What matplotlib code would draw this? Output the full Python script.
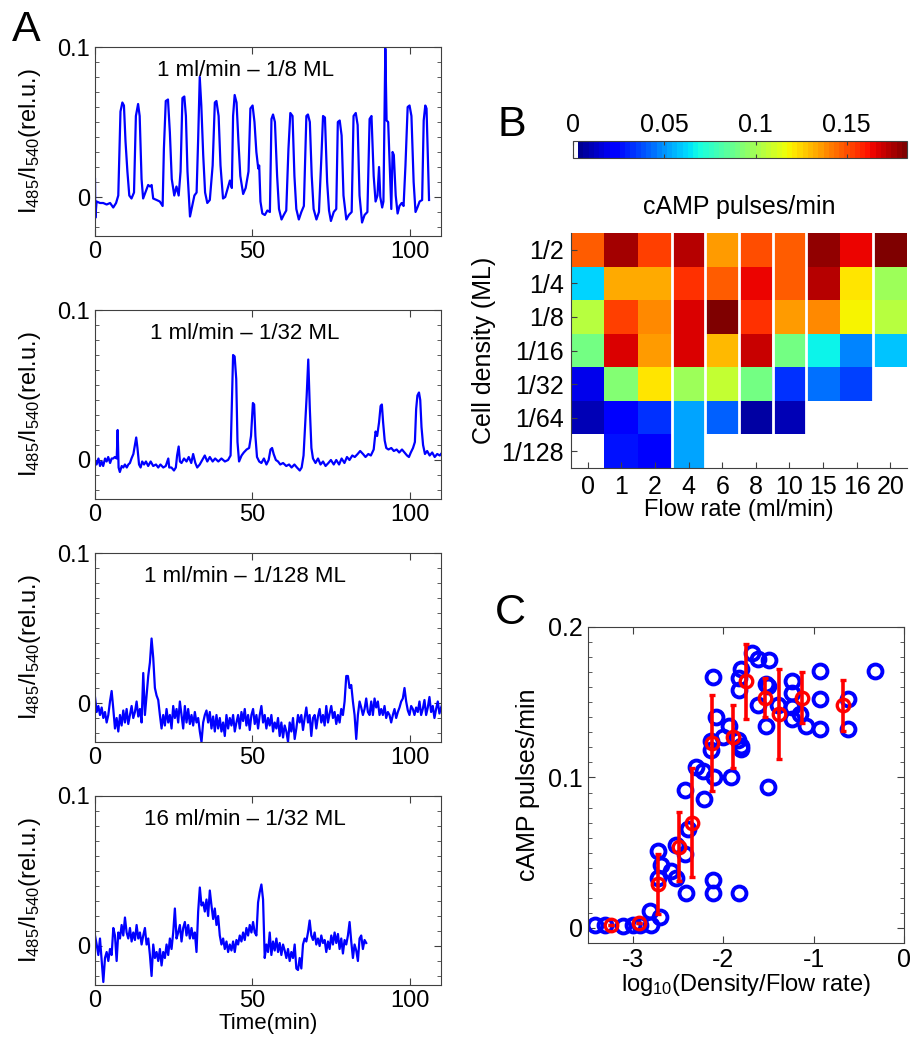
import matplotlib
matplotlib.use('Agg')
import matplotlib.pyplot as plt
import numpy as np
from matplotlib.colors import ListedColormap
from matplotlib.ticker import MultipleLocator

plt.rcParams['font.family'] = ['Liberation Sans', 'DejaVu Sans']
plt.rcParams['mathtext.fontset'] = 'custom'
plt.rcParams['mathtext.rm'] = 'Liberation Sans'
plt.rcParams['mathtext.it'] = 'Liberation Sans:italic'
plt.rcParams['axes.unicode_minus'] = False

# ---------------- panel A: single-cell traces ----------------
trace_labels = ['1 ml/min \u2013 1/8 ML', '1 ml/min \u2013 1/32 ML',
                '1 ml/min \u2013 1/128 ML', '16 ml/min \u2013 1/32 ML']

t1 = [0, 0.1, 0.5, 1.6, 2.6, 3.7, 4.8, 5.8, 6.7, 7.4, 8.1, 8.7, 9.2, 9.7, 10.3, 10.9, 11.6,
      12.4, 13.0, 13.7, 14.2, 14.8, 15.3, 16.2, 16.9, 17.5, 18.0, 18.5, 19.6, 20.6, 21.5,
      21.9, 22.5, 23.2, 23.8, 24.4, 25.2, 25.9, 26.6, 27.2, 27.8, 28.4, 28.9, 29.4, 30.2,
      30.8, 31.6, 32.3, 32.8, 33.3, 33.8, 34.4, 35.0, 35.7, 36.5, 37.4, 38.1, 38.6, 39.3,
      39.9, 40.7, 41.4, 42.2, 42.9, 43.5, 43.9, 44.4, 45.0, 45.6, 46.2, 47.1, 47.9, 48.8,
      49.4, 50.1, 50.7, 51.3, 51.9, 52.2, 52.6, 53.2, 54.0, 54.8, 55.6, 56.1, 56.6, 57.2,
      57.9, 58.5, 59.3, 60.0, 60.8, 61.5, 62.1, 62.8, 63.4, 64.0, 64.8, 65.6, 66.4, 67.2,
      67.7, 68.3, 68.9, 69.5, 70.4, 71.2, 72.0, 72.5, 73.1, 73.8, 74.4, 75.0, 75.9, 76.7,
      77.2, 77.8, 78.4, 79.0, 79.9, 80.7, 81.6, 82.2, 82.9, 83.5, 84.1, 84.9, 85.7, 86.6,
      87.3, 87.9, 88.6, 89.2, 89.8, 90.3, 90.7, 91.3, 91.7, 92.3, 92.7, 93.2, 93.7, 94.2,
      94.6, 95.0, 95.6, 96.2, 96.8, 97.5, 98.1, 98.7, 99.4, 100.0, 100.6, 101.3, 101.9,
      102.5, 103.2, 104.0, 104.5, 105.0, 105.4, 105.8, 106.2]
v1 = [0.012, -0.014, -0.003, -0.004, -0.004, -0.005, -0.004, -0.007, -0.004, 0.001, 0.057,
      0.063, 0.061, 0.037, 0.017, 0.001, -0.001, 0.003, 0.054, 0.062, 0.054, 0.012, -0.001,
      0.004, 0.008, 0.007, 0.008, -0.001, -0.002, -0.003, -0.006, 0.032, 0.064, 0.065,
      0.043, 0.012, 0.001, 0.007, 0.001, 0.017, 0.066, 0.067, 0.054, 0.017, -0.013, -0.007,
      0.001, 0.003, 0.039, 0.080, 0.061, 0.028, 0.003, -0.004, -0.002, 0.021, 0.063, 0.064,
      0.054, 0.021, -0.001, 0.000, 0.006, 0.011, 0.006, 0.054, 0.068, 0.063, 0.037, 0.014,
      0.002, 0.006, 0.017, 0.059, 0.061, 0.050, 0.030, 0.019, 0.021, -0.003, -0.011, -0.012,
      -0.009, -0.010, 0.052, 0.055, 0.050, 0.014, -0.008, -0.015, -0.012, -0.009, 0.032,
      0.056, 0.054, 0.014, -0.008, -0.015, -0.010, -0.006, 0.054, 0.055, 0.050, 0.014,
      -0.008, -0.015, -0.010, 0.028, 0.054, 0.053, 0.010, -0.009, -0.016, -0.010, -0.008,
      0.050, 0.051, 0.041, 0.001, -0.015, -0.012, -0.010, 0.054, 0.056, 0.048, 0.001,
      -0.017, -0.012, -0.010, 0.052, 0.054, 0.014, -0.003, 0.001, 0.020, 0.000, -0.007,
      -0.003, 0.099, 0.051, 0.050, 0.021, -0.008, 0.030, 0.028, 0.001, -0.011, -0.006,
      -0.004, -0.006, 0.021, 0.060, 0.061, 0.054, 0.010, -0.010, -0.007, -0.003, -0.002,
      0.051, 0.061, 0.059, 0.029, -0.002]

t2 = [0, 0.5, 1.1, 1.6, 2.1, 2.6, 3.2, 3.7, 4.2, 4.8, 5.3, 5.8, 6.3, 6.9, 7.2, 7.5, 7.9, 8.5,
      9.0, 9.5, 10.1, 10.6, 11.1, 11.6, 12.2, 12.7, 13.1, 13.5, 14.0, 14.5, 15.0, 15.6, 16.2,
      16.9, 17.7, 18.5, 19.4, 20.1, 20.8, 21.7, 22.5, 23.3, 23.6, 24.3, 25.1, 25.7, 26.1,
      26.6, 27.0, 27.5, 28.3, 29.1, 29.8, 30.6, 31.2, 31.9, 32.5, 33.3, 34.1, 34.9, 35.7,
      36.5, 37.4, 38.2, 39.2, 40.2, 41.3, 42.3, 43.1, 43.5, 43.9, 44.4, 44.9, 45.3, 45.8,
      46.6, 47.3, 48.2, 49.0, 49.6, 50.2, 50.6, 51.0, 51.5, 52.2, 52.9, 53.7, 54.5, 55.2,
      55.8, 56.3, 56.8, 57.5, 58.2, 58.9, 59.8, 60.8, 61.7, 62.5, 63.4, 64.2, 65.1, 65.7,
      66.3, 66.9, 67.3, 67.8, 68.3, 68.8, 69.3, 70.1, 70.9, 71.7, 72.5, 73.3, 74.2, 75.0,
      75.9, 76.7, 77.6, 78.4, 79.3, 80.1, 80.9, 81.8, 82.6, 83.5, 84.3, 85.2, 86.0, 86.9,
      87.7, 88.6, 89.2, 89.7, 90.3, 90.8, 91.2, 91.6, 92.1, 92.6, 93.3, 94.2, 95.0, 95.9,
      96.7, 97.6, 98.4, 99.2, 99.8, 100.4, 101.1, 101.7, 102.1, 102.5, 103.0, 103.4, 103.8,
      104.3, 104.9, 105.6, 106.4, 107.2, 108.0, 108.8, 109.6, 110.0]
v2 = [0.000, -0.003, 0.001, -0.004, -0.001, -0.004, 0.001, -0.001, 0.002, -0.002, 0.001,
      0.001, 0.002, 0.001, 0.020, -0.005, -0.008, -0.004, -0.005, -0.003, -0.005, -0.003,
      -0.002, 0.001, 0.004, 0.010, 0.015, 0.008, -0.003, -0.005, -0.001, -0.003, -0.001,
      -0.004, -0.001, -0.004, -0.003, -0.005, -0.003, -0.005, -0.004, 0.001, -0.005, -0.005,
      -0.007, -0.005, 0.003, 0.009, -0.001, -0.002, 0.001, -0.001, 0.002, -0.002, 0.004,
      -0.002, -0.005, -0.003, 0.000, 0.003, -0.001, 0.002, -0.001, 0.001, -0.001, 0.001,
      -0.001, 0.000, 0.003, 0.038, 0.070, 0.069, 0.054, 0.012, -0.001, 0.003, 0.005, 0.007,
      0.008, 0.016, 0.038, 0.037, 0.016, 0.002, -0.001, -0.002, 0.001, -0.003, 0.000, 0.007,
      0.008, 0.004, 0.000, -0.001, -0.003, -0.002, -0.004, -0.003, -0.005, -0.003, -0.005,
      -0.007, -0.005, 0.003, 0.027, 0.043, 0.067, 0.034, 0.008, 0.001, -0.002, 0.001,
      -0.003, -0.001, -0.004, -0.002, 0.000, -0.003, 0.000, -0.003, 0.001, -0.002, 0.002,
      0.000, 0.003, 0.002, 0.004, 0.006, 0.004, 0.002, 0.004, 0.003, 0.007, 0.019, 0.016,
      0.025, 0.036, 0.037, 0.025, 0.013, 0.008, 0.007, 0.008, 0.006, 0.007, 0.005, 0.007,
      0.005, 0.003, 0.002, 0.005, 0.008, 0.012, 0.034, 0.043, 0.045, 0.040, 0.022, 0.010,
      0.004, 0.006, 0.003, 0.005, 0.002, 0.004, 0.003, 0.004]

# sampled every 0.529 min
v3 = [0.004, -0.006, -0.002, -0.008, -0.003, -0.010, -0.006, -0.013, -0.008, 0.001, 0.008,
      -0.004, -0.017, -0.010, -0.019, -0.008, -0.015, -0.005, -0.013, -0.004, -0.014, -0.008,
      -0.002, -0.010, -0.006, 0.001, -0.009, -0.004, -0.013, 0.020, -0.008, 0.005, 0.018,
      0.027, 0.043, 0.030, 0.010, 0.005, 0.002, -0.008, -0.017, -0.008, -0.015, -0.004,
      -0.013, -0.008, -0.017, -0.002, -0.010, -0.004, -0.013, 0.001, -0.008, -0.017, -0.002,
      -0.013, -0.004, -0.014, -0.008, -0.015, -0.006, -0.013, -0.010, -0.019, -0.026, -0.013,
      -0.008, -0.005, -0.013, -0.006, -0.017, -0.009, -0.019, -0.008, -0.017, -0.010, -0.019,
      -0.013, -0.022, -0.008, -0.017, -0.010, -0.015, -0.008, -0.019, -0.013, -0.008, -0.017,
      -0.006, -0.012, -0.004, -0.015, -0.008, -0.018, -0.008, -0.004, -0.014, -0.008, -0.017,
      -0.008, -0.002, -0.013, -0.008, -0.017, -0.010, -0.015, -0.008, -0.019, -0.013, -0.017,
      -0.010, -0.022, -0.013, -0.023, -0.015, -0.019, -0.026, -0.013, -0.019, -0.010, -0.024,
      -0.017, -0.008, -0.013, -0.008, -0.018, -0.010, -0.003, -0.013, -0.008, -0.022, -0.010,
      -0.008, -0.017, -0.009, -0.004, -0.013, -0.008, -0.015, -0.002, -0.013, -0.007, -0.002,
      -0.010, -0.006, -0.014, -0.008, -0.013, -0.004, -0.008, 0.001, 0.018, 0.018, 0.010,
      0.012, 0.001, -0.008, -0.024, -0.008, 0.001, -0.003, -0.008, -0.004, 0.003, -0.006,
      -0.008, 0.001, -0.008, 0.003, -0.003, 0.001, -0.008, -0.004, -0.008, -0.002, -0.010,
      -0.006, -0.008, -0.013, -0.008, -0.004, -0.010, -0.006, -0.003, 0.001, 0.003, 0.010,
      0.001, -0.005, -0.008, -0.002, -0.004, -0.008, -0.003, -0.006, 0.001, -0.008, -0.004,
      0.002, -0.008, -0.003, 0.004, -0.006, -0.002, -0.010, -0.004, 0.001, -0.007, -0.003,
      0.000]

v4 = [0.007, 0.001, -0.006, 0.005, -0.010, -0.024, -0.008, -0.004, -0.010, -0.002, -0.006,
      0.012, 0.007, -0.010, 0.009, 0.005, 0.014, 0.007, 0.019, 0.009, 0.005, 0.012, 0.003,
      0.009, 0.004, 0.014, 0.005, 0.009, 0.001, 0.007, 0.012, 0.001, 0.005, -0.006, -0.020,
      0.001, -0.008, -0.004, -0.010, -0.002, -0.013, -0.004, -0.008, 0.001, -0.006, 0.005,
      -0.002, 0.009, 0.025, 0.005, 0.009, 0.014, 0.003, 0.012, 0.016, 0.007, 0.014, 0.005,
      0.012, 0.005, 0.009, -0.004, 0.023, 0.039, 0.027, 0.029, 0.023, 0.031, 0.020, 0.037,
      0.027, 0.018, 0.025, 0.014, 0.020, 0.007, 0.001, 0.005, -0.002, 0.003, -0.004, 0.001,
      -0.003, 0.003, -0.004, 0.004, 0.001, 0.007, 0.003, 0.009, 0.004, 0.012, 0.007, 0.014,
      0.009, 0.016, 0.009, 0.007, 0.029, 0.036, 0.041, 0.031, -0.008, 0.001, -0.004, 0.009,
      -0.006, 0.003, -0.003, 0.005, -0.004, 0.002, -0.006, 0.001, -0.003, -0.008, -0.002,
      -0.010, -0.004, -0.008, 0.001, -0.015, -0.016, -0.008, -0.015, 0.001, 0.005, 0.003,
      0.009, 0.017, 0.007, 0.004, 0.009, 0.001, 0.005, 0.000, 0.007, 0.002, 0.004, -0.004,
      0.003, -0.002, 0.007, 0.001, 0.009, 0.002, 0.008, -0.002, 0.005, -0.005, 0.004, 0.001,
      0.007, 0.016, 0.003, -0.008, 0.001, -0.003, -0.010, 0.005, 0.007, -0.002, 0.004, 0.002]
sample_step = 0.529

# ---------------- panel B: heat map ----------------
flow_labels = ['0', '1', '2', '4', '6', '8', '10', '15', '16', '20']
density_labels = ['1/2', '1/4', '1/8', '1/16', '1/32', '1/64', '1/128']
nan = np.nan
pulse_rate = np.array([
    [0.146, 0.177, 0.153, 0.174, 0.135, 0.151, 0.146, 0.179, 0.164, 0.181],
    [0.062, 0.133, 0.132, 0.156, 0.147, 0.164, 0.147, 0.172, 0.121, 0.099],
    [0.104, 0.153, 0.140, 0.166, 0.182, 0.156, 0.135, 0.140, 0.120, 0.104],
    [0.089, 0.168, 0.137, 0.167, 0.129, 0.170, 0.089, 0.066, 0.048, 0.058],
    [0.018, 0.094, 0.122, 0.099, 0.108, 0.090, 0.034, 0.043, 0.035, nan],
    [0.011, 0.022, 0.034, 0.052, 0.041, 0.008, 0.011, nan, nan, nan],
    [nan, 0.028, 0.022, 0.052, nan, nan, nan, nan, nan, nan],
])
experiment_breaks = [2.5, 3.5, 4.5, 5.5, 6.5, 8.5]
cmax = 0.183

# ---------------- panel C: scatter ----------------
x_blue = [-3.42, -3.31, -3.11, -3.00, -2.92, -2.80, -2.81, -2.70, -2.72, -2.69, -2.72, -2.58,
          -2.52, -2.52, -2.43, -2.41, -2.43, -2.39, -2.30, -2.23, -2.21, -2.10, -2.12, -2.08,
          -2.14, -2.14, -2.12, -2.12, -2.01, -1.94, -1.92, -1.84, -1.81, -1.81, -1.83, -1.83,
          -1.81, -1.83, -1.68, -1.62, -1.50, -1.62, -1.53, -1.53, -1.51, -1.51, -1.40, -1.24,
          -1.24, -1.24, -1.24, -1.15, -1.09, -0.93, -0.93, -0.93, -0.62, -0.62, -0.32]
y_blue = [0.002, 0.002, 0.001, 0.002, 0.002, 0.002, 0.011, 0.007, 0.051, 0.042, 0.033, 0.038,
          0.033, 0.055, 0.049, 0.023, 0.092, 0.066, 0.107, 0.104, 0.086, 0.100, 0.167, 0.140,
          0.118, 0.124, 0.032, 0.023, 0.127, 0.134, 0.100, 0.125, 0.121, 0.119, 0.023, 0.166,
          0.172, 0.158, 0.183, 0.179, 0.178, 0.148, 0.162, 0.134, 0.094, 0.161, 0.148, 0.164,
          0.156, 0.147, 0.139, 0.142, 0.134, 0.171, 0.152, 0.132, 0.152, 0.132, 0.171]
x_mean = [-3.24, -2.94, -2.73, -2.49, -2.35, -2.13, -1.89, -1.75, -1.54, -1.39, -1.13, -0.68]
y_mean = [0.002, 0.003, 0.029, 0.054, 0.070, 0.123, 0.127, 0.164, 0.153, 0.142, 0.153, 0.148]
y_err = [0.0, 0.0, 0.020, 0.023, 0.036, 0.032, 0.021, 0.025, 0.013, 0.030, 0.017, 0.017]

W, H = 921, 1050
fig = plt.figure(figsize=(W / 100, H / 100), dpi=100)


def px_axes(left, top, right, bottom):
    return fig.add_axes([left / W, 1 - bottom / H, (right - left) / W, (bottom - top) / H])


def style_box(ax, size):
    for s in ax.spines.values():
        s.set_color('#404040')
        s.set_linewidth(0.8)
    ax.tick_params(which='both', direction='in', top=True, right=True,
                   labelsize=size, color='#404040')
    ax.tick_params(which='major', length=5)
    ax.tick_params(which='minor', length=3)


traces = [(t1, v1), (t2, v2),
          (np.arange(len(v3)) * sample_step, v3),
          (np.arange(len(v4)) * sample_step, v4)]
tops = [47, 310, 553, 796]
for i, (t, v) in enumerate(traces):
    ax = px_axes(95, tops[i], 441, tops[i] + 189)
    ax.plot(t, v, color='#0000ff', lw=1.6)
    ax.set_xlim(0, 110)
    ax.set_ylim(-0.026, 0.1)
    ax.set_xticks([0, 50, 100])
    ax.set_yticks([0, 0.1])
    ax.set_yticklabels(['0', '0.1'])
    ax.yaxis.set_minor_locator(MultipleLocator(0.01))
    style_box(ax, 17)
    ax.text(0.434, 0.878, trace_labels[i], transform=ax.transAxes,
            ha='center', va='center', fontsize=16)
    ax.set_ylabel(r'$\mathregular{I_{485}/I_{540}}$(rel.u.)', fontsize=17)
    ax.yaxis.set_label_coords(-0.15, 0.5)
    if i == 3:
        ax.set_xlabel('Time(min)', fontsize=16, labelpad=1)

fig.text(26 / W, 1 - 30 / H, 'A', fontsize=31, ha='center', va='center')

# heat map
jet = plt.cm.jet(np.linspace(0, 1, 64))
jet[0] = [1, 1, 1, 1]
cmap = ListedColormap(jet)
cmap.set_bad('white')

axb = px_axes(571, 233, 907, 468)
im = axb.imshow(pulse_rate, cmap=cmap, vmin=0, vmax=cmax, aspect='auto',
                interpolation='nearest')
for xb in experiment_breaks:
    axb.axvline(xb, color='white', lw=2)
axb.set_xticks(range(len(flow_labels)))
axb.set_xticklabels(flow_labels)
axb.set_yticks(range(len(density_labels)))
axb.set_yticklabels(density_labels)
axb.spines['top'].set_visible(False)
axb.spines['right'].set_visible(False)
for s in ['left', 'bottom']:
    axb.spines[s].set_color('#404040')
    axb.spines[s].set_linewidth(0.8)
axb.tick_params(direction='in', length=4, labelsize=18, color='#404040', pad=5)
axb.set_xlabel('Flow rate (ml/min)', fontsize=17, labelpad=0)
axb.set_ylabel('Cell density (ML)', fontsize=18, labelpad=4)
axb.set_title('cAMP pulses/min', fontsize=18, pad=14)

cax = px_axes(573, 141, 907, 158)
cb = fig.colorbar(im, cax=cax, orientation='horizontal', ticks=[0, 0.05, 0.1, 0.15])
cb.outline.set_edgecolor('#404040')
cb.outline.set_linewidth(0.8)
cax.xaxis.set_ticks_position('both')
cax.xaxis.set_label_position('top')
cax.set_xticklabels(['0', '0.05', '0.1', '0.15'])
cax.tick_params(direction='in', length=3, labelsize=18, labeltop=True, labelbottom=False,
                color='#404040', pad=3)
fig.text(512 / W, 1 - 125 / H, 'B', fontsize=31, ha='center', va='center')

# scatter
axc = px_axes(588, 627, 904, 943)
axc.plot(x_blue, y_blue, 'o', mfc='none', mec='#0000ff', mew=2.8, ms=10)
axc.errorbar(x_mean, y_mean, yerr=y_err, fmt='o', mfc='none', mec='#ff0000', mew=2.4,
             ms=9, ecolor='#ff0000', elinewidth=2.6, capsize=2, capthick=2.6)
axc.set_xlim(-3.5, 0)
axc.set_ylim(-0.01, 0.2)
axc.set_xticks([-3, -2, -1, 0])
axc.set_yticks([0, 0.1, 0.2])
axc.set_yticklabels(['0', '0.1', '0.2'])
axc.yaxis.set_minor_locator(MultipleLocator(0.01))
style_box(axc, 18)
axc.set_xlabel(r'log$_{10}$(Density/Flow rate)', fontsize=17, labelpad=0)
axc.set_ylabel('cAMP pulses/min', fontsize=18, labelpad=6)
fig.text(510 / W, 1 - 613 / H, 'C', fontsize=31, ha='center', va='center')

fig.savefig('out.png', dpi=100)
